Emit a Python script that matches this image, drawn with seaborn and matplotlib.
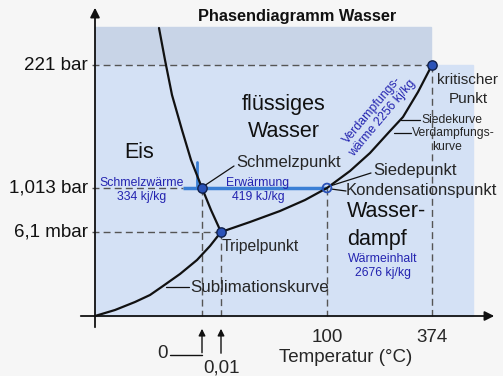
import matplotlib
matplotlib.use("Agg")
import matplotlib.pyplot as plt
import seaborn as sns
import pandas as pd
from matplotlib.patches import Rectangle

# ---- schematic data (diagram coordinates: x to the right, y downward) ----
melt_x = [159, 165, 172, 182, 191, 202, 211, 221]
melt_y = [28, 60, 95, 130, 160, 188, 210, 232]
subl_x = [95, 115, 135, 150, 163, 180, 197, 210, 221]
subl_y = [316, 310, 302, 295, 286, 274, 260, 246, 232]
boil_x = [221, 250, 280, 305, 327, 350, 370, 390, 403, 418, 432]
boil_y = [232, 222, 211, 200, 188, 171, 153, 131, 117, 92, 65]

point_names = ["Schmelzpunkt", "Tripelpunkt", "Kondensationspunkt", "kritischer Punkt"]
point_x = [202, 221, 327, 432]
point_y = [188, 232, 188, 65]

ytick_labels = ["221 bar", "1,013 bar", "6,1 mbar"]
ytick_pos = [65, 188, 232]
xtick_labels = ["0", "0,01", "100", "374"]
xtick_pos = [202, 221, 327, 432]

sns.set_theme(style="white")
plt.rcParams['font.family'] = ['Liberation Sans', 'DejaVu Sans']

fig = plt.figure(figsize=(5.03, 3.76), dpi=100, facecolor="#f6f6f6")
ax = fig.add_axes([0, 0, 1, 1])

AX0, AXY = 95, 316  # origin of the schematic axes

# background regions
ax.add_patch(Rectangle((AX0, 27), 431 - AX0, 65 - 27, color="#c8d4e7", zorder=0))
ax.add_patch(Rectangle((AX0, 65), 473 - AX0, AXY - 65, color="#d4e1f5", zorder=0))

# dashed guide lines
dash = dict(color="#555555", lw=1.0, ls=(0, (5, 3)), zorder=1)
ax.plot([AX0 - 3, 432], [65, 65], **dash)
ax.plot([AX0 - 3, 183], [188, 188], **dash)
ax.plot([AX0 - 3, 221], [232, 232], **dash)
ax.plot([202, 202], [188, AXY], **dash)
ax.plot([221, 221], [232, AXY], **dash)
ax.plot([327, 327], [188, AXY], **dash)
ax.plot([432, 432], [65, AXY], **dash)

# blue heating path
ax.plot([183, 327], [188, 188], color="#3a7fd5", lw=2.5, zorder=2, solid_capstyle="butt")
ax.plot([197, 197], [162, 188], color="#3a7fd5", lw=2.0, zorder=2)

# phase boundary curves
for cx, cy in [(melt_x, melt_y), (subl_x, subl_y), (boil_x, boil_y)]:
    sns.lineplot(data=pd.DataFrame({"x": cx, "y": cy}), x="x", y="y", sort=False,
                 color="#111111", lw=1.6, ax=ax, zorder=3)

# points
pts = pd.DataFrame({"name": point_names, "x": point_x, "y": point_y})
solid = pts[pts.name != "Kondensationspunkt"]
sns.scatterplot(data=solid, x="x", y="y", s=45, color="#2a52b8", edgecolor="#10204a",
                linewidth=1.0, ax=ax, zorder=5)
hollow = pts[pts.name == "Kondensationspunkt"]
sns.scatterplot(data=hollow, x="x", y="y", s=40, facecolor="none", edgecolor="#2a52b8",
                linewidth=1.3, ax=ax, zorder=5)

ax.set_xlim(0, 503)
ax.set_ylim(376, 0)
ax.axis("off")

# axes arrows
ax.annotate("", xy=(AX0, 5), xytext=(AX0, 330),
            arrowprops=dict(arrowstyle="-|>", color="#111111", lw=1.3, mutation_scale=14))
ax.annotate("", xy=(497, AXY), xytext=(78, AXY),
            arrowprops=dict(arrowstyle="-|>", color="#111111", lw=1.3, mutation_scale=14))

# y tick labels
for lab, yp in zip(ytick_labels, ytick_pos):
    ax.text(88, yp, lab, ha="right", va="center", fontsize=13.5, color="#111111")

# x tick labels
ax.text(xtick_pos[2], 338, xtick_labels[2], ha="center", va="center", fontsize=13.5)
ax.text(xtick_pos[3], 338, xtick_labels[3], ha="center", va="center", fontsize=13.5)
ax.text(163, 353, xtick_labels[0], ha="center", va="center", fontsize=13.5)
ax.text(xtick_pos[1] + 1, 368, xtick_labels[1], ha="center", va="center", fontsize=13.5)
ax.plot([170, xtick_pos[0]], [355, 355], color="#111111", lw=1.0)
ax.annotate("", xy=(xtick_pos[0], 326), xytext=(xtick_pos[0], 355.5),
            arrowprops=dict(arrowstyle="-|>", color="#111111", lw=1.0, mutation_scale=10))
ax.annotate("", xy=(xtick_pos[1], 326), xytext=(xtick_pos[1], 356),
            arrowprops=dict(arrowstyle="-|>", color="#111111", lw=1.0, mutation_scale=10))
ax.text(346, 357, "Temperatur (°C)", ha="center", va="center", fontsize=13.5)

# title
ax.text(297, 16, "Phasendiagramm Wasser", ha="center", va="center", fontsize=11.8,
        fontweight="bold", color="#111111")

# region labels
ax.text(284, 110, "flüssiges", ha="center", va="baseline", fontsize=15.5, color="#111111")
ax.text(284, 137, "Wasser", ha="center", va="baseline", fontsize=15.5, color="#111111")
ax.text(139, 158, "Eis", ha="center", va="baseline", fontsize=15.5, color="#111111")
ax.text(347, 217, "Wasser-", ha="left", va="baseline", fontsize=15.5, color="#111111")
ax.text(347, 245, "dampf", ha="left", va="baseline", fontsize=15.5, color="#111111")

# point labels with leader lines
lead = dict(color="#111111", lw=0.9)
ax.text(236, 163, "Schmelzpunkt", ha="left", va="center", fontsize=12)
ax.plot([204, 234], [186, 166], **lead)
ax.text(373, 171, "Siedepunkt", ha="left", va="center", fontsize=12)
ax.plot([330, 371], [186, 173], **lead)
ax.text(346, 191, "Kondensationspunkt", ha="left", va="center", fontsize=12)
ax.plot([331, 346], [189, 191], **lead)
ax.text(222, 246, "Tripelpunkt", ha="left", va="center", fontsize=11.3)
ax.text(190, 288, "Sublimationskurve", ha="left", va="center", fontsize=12.2)
ax.plot([166, 189], [287, 287], **lead)
ax.text(468, 80, "kritischer", ha="center", va="center", fontsize=11)
ax.text(468, 99, "Punkt", ha="center", va="center", fontsize=11)
ax.text(421, 120, "Siedekurve", ha="left", va="center", fontsize=8.7)
ax.text(412, 133, "Verdampfungs-", ha="left", va="center", fontsize=8.7)
ax.text(447, 147, "kurve", ha="center", va="center", fontsize=8.7)
ax.plot([401, 420], [120, 120], **lead)
ax.plot([394, 411], [133, 133], **lead)

# blue energy labels
blue = "#2323b0"
ax.text(142, 183, "Schmelzwärme", ha="center", va="center", fontsize=8.8, color=blue)
ax.text(142, 197, "334 kj/kg", ha="center", va="center", fontsize=8.8, color=blue)
ax.text(258, 183, "Erwärmung", ha="center", va="center", fontsize=8.8, color=blue)
ax.text(258, 197, "419 kJ/kg", ha="center", va="center", fontsize=8.8, color=blue)
ax.text(383, 259, "Wärmeinhalt", ha="center", va="center", fontsize=8.8, color=blue)
ax.text(383, 273, "2676 kj/kg", ha="center", va="center", fontsize=8.8, color=blue)
ax.text(377, 114, "Verdampfungs-\nwärme 2256 kj/kg", ha="center", va="center",
        fontsize=8.8, color=blue, rotation=50, rotation_mode="anchor", linespacing=1.15)

fig.savefig("out.png", dpi=100, facecolor=fig.get_facecolor())
